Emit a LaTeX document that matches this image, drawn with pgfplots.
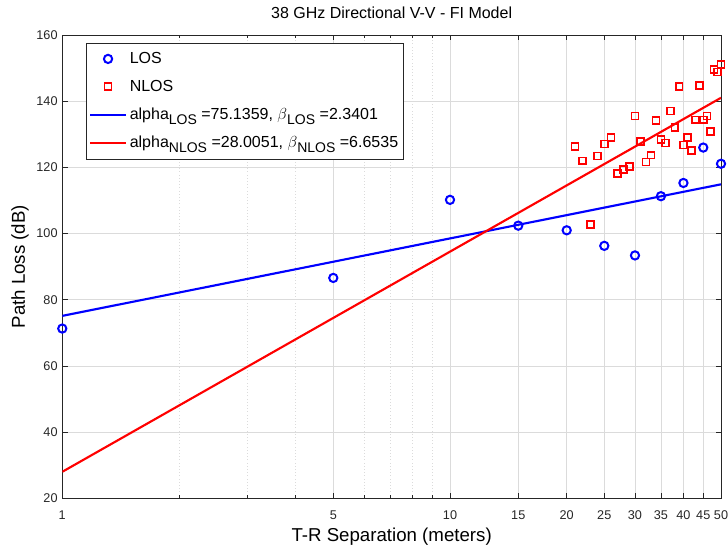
\documentclass[border=0pt]{standalone}
\usepackage{fontspec}
\setmainfont{Liberation Sans}
\usepackage{pgfplots}
\pgfplotsset{compat=1.18}
\definecolor{gridc}{gray}{0.86}
\definecolor{axc}{gray}{0.15}
\newcommand\sub[1]{\raisebox{-3.5pt}{\fontsize{10.5}{12}\selectfont #1}}
\pgfplotsset{
  marklegend/.style={legend image code/.code={\draw[mark repeat=2,mark phase=2,##1] plot coordinates {(0pt,0pt) (13.5pt,0pt) (27pt,0pt)};}},
  linelegend/.style={legend image code/.code={\draw[##1] (0pt,0pt) -- (27pt,0pt);}},
}
\begin{document}
\begin{tikzpicture}
\begin{axis}[
  name=ax,
  xmode=log,
  scale only axis,
  width=494pt, height=347.4pt,
  xmin=1, xmax=50, ymin=20, ymax=160,
  xtick={1,5,10,15,20,25,30,35,40,45,50},
  xticklabels={1,5,10,15,20,25,30,35,40,45,50},
  minor xtick={2,3,4,6,7,8,9},
  ytick={20,40,60,80,100,120,140,160},
  /pgf/number format/assume math mode=true,
  tick label style={font=\fontsize{9.5}{11}\selectfont, text=axc},
  xticklabel style={yshift=-6pt},
  major tick length=4pt, minor tick length=2.5pt,
  tick style={axc, line width=0.5pt},
  axis line style={axc, line width=0.6pt},
  grid=both,
  major grid style={gridc, line width=0.5pt},
  minor grid style={gridc, dotted, line width=0.5pt},
  clip mode=individual,
  title={38 GHz Directional V-V - FI Model},
  title style={font=\fontsize{12}{14}\selectfont, at={(axis description cs:0.5,1.018)}, anchor=base},
  xlabel={T-R Separation (meters)},
  ylabel={Path Loss (dB)},
  x label style={font=\fontsize{14}{16}\selectfont, at={(axis description cs:0.5,-0.083)}, anchor=center},
  y label style={font=\fontsize{14}{16}\selectfont, at={(axis description cs:-0.0642,0.5)}, anchor=center},
  legend style={at={(axis description cs:0.036,0.9836)}, anchor=north west,
    font=\fontsize{12}{14}\selectfont, draw=axc, line width=0.5pt, fill=white,
    inner xsep=2pt, inner ysep=5pt, row sep=7pt,
    cells={anchor=west}},
  legend cell align=left,
]
\addplot[only marks, mark=o, mark size=3.1pt, blue, line width=1.5pt, marklegend]
  coordinates {
  (1,71.3) (5,86.6) (10,110.2) (15,102.4) (20,101.0) (25,96.3)
  (30,93.4) (35,111.3) (40,115.3) (45,126.0) (50,121.1)};
\addlegendentry{LOS}
\addplot[only marks, mark=square, mark size=2.6pt, red, line width=1.2pt, marklegend]
  coordinates {
  (21,126.3) (22,122.0) (23,102.8) (24,123.4) (25,127.1) (26,129.1)
  (27,118.1) (28,119.4) (29,120.3) (30,135.5) (31,127.8) (32,121.6)
  (33,123.7) (34,134.1) (35,128.4) (36,127.4) (37,137.0) (38,132.1)
  (39,144.5) (40,126.8) (41,129.1) (42,125.1) (43,134.4) (44,144.8)
  (45,134.4) (46,135.5) (47,130.9) (48,149.6) (49,148.8) (50,151.1)};
\addlegendentry{NLOS\rule[-2pt]{0pt}{0pt}}
\addplot[blue, line width=1.6pt, mark=none, linelegend]
  coordinates {(1,75.1359) (50,114.893)};
\addlegendentry{alpha\sub{LOS} =75.1359, $\beta$\sub{LOS} =2.3401}
\addplot[red, line width=1.6pt, mark=none, linelegend]
  coordinates {(1,28.0051) (50,141.045)};
\addlegendentry{alpha\sub{NLOS} =28.0051, $\beta$\sub{NLOS} =6.6535}
\end{axis}
\pgfresetboundingbox
\path[use as bounding box] ([shift={(-46.7pt,-37.3pt)}]ax.south west) rectangle ([shift={(5.25pt,26.3pt)}]ax.north east);
\end{tikzpicture}
\end{document}
